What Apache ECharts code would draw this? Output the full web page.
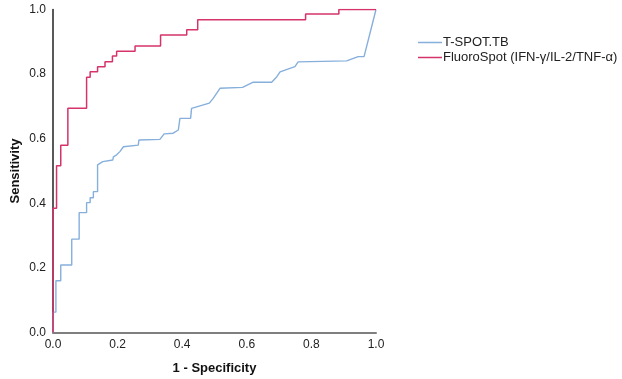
<!DOCTYPE html>
<html>
<head>
<meta charset="utf-8">
<script src="https://cdn.jsdelivr.net/npm/echarts@6/dist/echarts.min.js"></script>
<style>
  html, body { margin: 0; padding: 0; background: #fff; }
  #roc { width: 622px; height: 379px; }
</style>
</head>
<body>
<div id="roc"></div>
<script>
// ROC curves (1 - specificity, sensitivity)
var seriesNames = ["T-SPOT.TB", "FluoroSpot (IFN-\u03b3/IL-2/TNF-\u03b1)"];
var tickValues = [0, 0.2, 0.4, 0.6, 0.8, 1.0];

var tspotFpr = [0, 0, 0.009, 0.009, 0.024, 0.024, 0.058, 0.058, 0.081, 0.081, 0.104, 0.104,
  0.115, 0.115, 0.125, 0.125, 0.138, 0.138, 0.154, 0.185, 0.187, 0.197, 0.207, 0.218, 0.264,
  0.266, 0.331, 0.344, 0.372, 0.388, 0.393, 0.426, 0.429, 0.484, 0.496, 0.507, 0.517, 0.587,
  0.620, 0.677, 0.693, 0.703, 0.749, 0.759, 0.909, 0.945, 0.963, 1.0];
var tspotTpr = [0, 0.063, 0.063, 0.160, 0.160, 0.209, 0.209, 0.289, 0.289, 0.371, 0.371, 0.402,
  0.402, 0.417, 0.417, 0.436, 0.436, 0.519, 0.529, 0.534, 0.544, 0.550, 0.560, 0.575, 0.580,
  0.596, 0.598, 0.615, 0.617, 0.627, 0.663, 0.663, 0.694, 0.710, 0.725, 0.741, 0.756, 0.759,
  0.775, 0.775, 0.792, 0.807, 0.823, 0.838, 0.841, 0.854, 0.854, 1.0];

var fluoroFpr = [0, 0, 0.011, 0.011, 0.024, 0.024, 0.046, 0.046, 0.104, 0.104, 0.115, 0.115,
  0.138, 0.138, 0.161, 0.161, 0.184, 0.184, 0.197, 0.197, 0.254, 0.254, 0.333, 0.333, 0.414,
  0.414, 0.448, 0.448, 0.782, 0.782, 0.885, 0.885, 1.0];
var fluoroTpr = [0, 0.385, 0.385, 0.516, 0.516, 0.580, 0.580, 0.694, 0.694, 0.790, 0.790, 0.807,
  0.807, 0.823, 0.823, 0.838, 0.838, 0.856, 0.856, 0.871, 0.871, 0.887, 0.887, 0.921, 0.921,
  0.937, 0.937, 0.968, 0.968, 0.986, 0.986, 1.0, 1.0];

function pairs(xs, ys) {
  return xs.map(function (x, i) { return [x, ys[i]]; });
}

var font = "Liberation Sans, Arial, Helvetica, sans-serif";
var myChart = echarts.init(document.getElementById("roc"));
var option = {
  animation: false,
  textStyle: { fontFamily: font },
  grid: { left: 53, right: 246, top: 9.5, bottom: 46.5, outerBoundsMode: "none", containLabel: false },
  legend: {
    orient: "vertical",
    left: 413,
    top: 31,
    itemGap: 2,
    itemWidth: 24,
    itemHeight: 1.5,
    icon: "rect",
    textStyle: { fontFamily: font, fontSize: 13, color: "#222", padding: [0, 0, 0, -4] },
    data: seriesNames
  },
  xAxis: {
    type: "value",
    min: 0,
    max: 1,
    interval: 0.2,
    name: "1 - Specificity",
    nameLocation: "middle",
    nameGap: 29,
    nameTextStyle: { fontFamily: font, fontSize: 13, fontWeight: "bold", color: "#111" },
    axisLine: { show: true, lineStyle: { color: "#7f7f7f", width: 2 } },
    axisTick: { show: false },
    splitLine: { show: false },
    axisLabel: {
      margin: 6, fontSize: 12, color: "#222",
      formatter: function (v) { return v.toFixed(1); }
    }
  },
  yAxis: {
    type: "value",
    min: 0,
    max: 1,
    interval: 0.2,
    name: "Sensitivity",
    nameLocation: "middle",
    nameGap: 31,
    nameMoveOverlap: false,
    nameTextStyle: { fontFamily: font, fontSize: 13, fontWeight: "bold", color: "#111" },
    axisLine: { show: true, lineStyle: { color: "#222", width: 1.5 } },
    axisTick: { show: false },
    splitLine: { show: false },
    axisLabel: {
      margin: 7, fontSize: 12, color: "#222",
      formatter: function (v) { return v.toFixed(1); }
    }
  },
  series: [
    {
      name: seriesNames[0],
      type: "line",
      data: pairs(tspotFpr, tspotTpr),
      showSymbol: false,
      lineStyle: { color: "#86afdc", width: 1.4 },
      itemStyle: { color: "#86afdc" },
      z: 2
    },
    {
      name: seriesNames[1],
      type: "line",
      data: pairs(fluoroFpr, fluoroTpr),
      showSymbol: false,
      lineStyle: { color: "#d5336a", width: 1.5 },
      itemStyle: { color: "#d5336a" },
      z: 3
    }
  ]
};
option && myChart.setOption(option);
</script>
</body>
</html>
